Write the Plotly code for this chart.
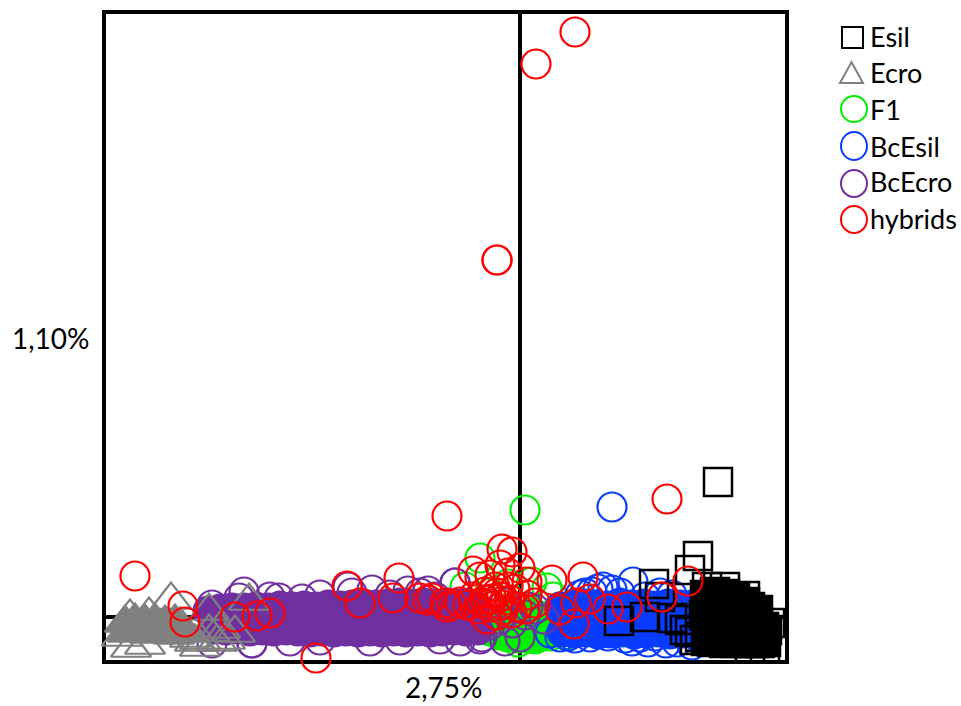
import plotly.graph_objects as go

# Score values (arbitrary score units, origin at the crossing lines)
f1_core_x = [-22, -12, -2, 8, 18, 28, 6, -15, -3, 12, 22]
f1_core_y = [-17, -20, -21, -21, -20, -17, -10, -2, 2, 4, 0]
f1_x = [-40, 5, 27, 47, -2, 15, 30, -30, -12, -55, 40, 12, -20, -30, 48, -45, 33]
f1_y = [59, 107, 29, -18, -25, -22, -19, 24, 33, 30, 10, 35, -18, -14, -8, 12, 20]

bcesil_core_x = [40, 52, 64, 76, 88, 100, 112, 124, 136, 148, 160, 172, 182,
                 42, 54, 66, 78, 90, 102, 114, 126, 138, 150, 162, 174, 186]
bcesil_core_y = [10, 12, 13, 12, 11, 14, 12, 13, 11, 13, 12, 12, 10,
                 -15, -16, -15, -17, -16, -15, -17, -16, -15, -17, -16, -17, -15]
bcesil_x = [92, 83, 113, 72, 60, 100, 125, 140, 152, 40, 55, 70, 88, 105, 120, 135, 157, 172, 190, 30, 48, 92, 78, 65,
            112, 128, 146]
bcesil_y = [110, 30, 35, 25, 22, 24, 20, 24, 22, -20, -21, -20, -19, -21, -20, -19, -25, -28, -22, -16, -19, 27, 28, 24,
            -24, -25, -26]

bcecro_core_x = [-312, -300, -288, -276, -264, -252, -240, -228, -216, -204, -192, -180, -168, -156, -144,
                 -132, -120, -108, -96, -84, -72, -60, -48,
                 -306, -294, -282, -270, -258, -246, -234, -222, -210, -198, -186, -174, -162, -150, -138,
                 -126, -114, -102, -90, -78, -66, -54, -42]
bcecro_core_y = [6, 8, 9, 9, 10, 9, 11, 10, 11, 10, 12, 11, 12, 13, 12,
                 13, 14, 13, 14, 13, 14, 13, 12,
                 -12, -13, -12, -14, -13, -14, -13, -14, -15, -14, -15, -14, -15, -14, -15,
                 -14, -15, -14, -15, -14, -13, -14, -13]
bcecro_x = [-281, -276, -241, -218, -172, -168, -148, -130, -100, -92, -85, -65, -308, -268, -308, -268, -120,
            -80, -230, -200, -150, -60, -40, -15, 0, -65, -200, -250, -112, -30, -20, -8, 5, 15, 24, -33, -15, 8, -38]
bcecro_y = [19, 25, 19, 18, 30, 24, 27, 22, 24, 26, 20, 34, 12, -26, -26, -26, -23, -22, -24, -23, -24, -24, -22, -24, -20, 34, 22, 20, 26,
            -8, -2, -6, 2, 8, -2, 12, 14, 10, -20]

ecro_core_x = [-395, -385, -375, -365, -355, -345, -392, -380, -370, -358, -346, -335, -388, -372, -360, -350]
ecro_core_y = [-6, -4, -5, -4, -6, -5, -16, -15, -17, -16, -18, -16, -11, -10, -11, -10]
ecro_x = [-390, -371, -349, -311, -271, -311, -303, -320, -330, -295, -389, -375, -320, -285, -300, -398, -340, -325]
ecro_y = [0, 2, 17, 6, 16, -15, -25, -23, -21, -23, -31, -28, -30, -16, -12, -20, -8, -25]

esil_core_x = [184, 190, 196, 202, 208, 214, 220, 226, 232, 238, 244, 247,
               186, 192, 198, 204, 210, 216, 222, 228, 234, 240, 246,
               185, 195, 205, 215, 225, 230, 237]
esil_core_y = [2, 3, 2, 4, 3, 2, 2, 0, -2, -5, -10, -13,
               -24, -25, -24, -26, -25, -26, -25, -26, -26, -26, -25,
               22, 25, 23, 20, 15, 10, 5]
esil_x = [134, 140, 99, 125, 178, 170, 198, 187, 205, 225, 238, 250, 165, 170, 175, 160, 152, 180, 190, 213, 230, 245]
esil_y = [33, 20, -4, 0, 61, 47, 135, 30, 30, 21, 7, -6, -13, -15, -23, -3, -1, -20, -23, -23, -31, -31]

hybrids_x = [55, 16, -23, -23, -73, 147, -385, -204, -337, -335, -285, -263, -250, -173, -160, -121, -127,
             -100, -92, -88, -75, -68, -18, -8, -47, 0, -20, 32, 63, 168, 142, 107, 88, 70, 56, 40, 54, -23,
             -40, -30, -12, 7, -47, -60, -73, -35, -23, -10, 7, 15, -30, -17, -3, -42, -52, -25, -12, -18, -35, -5, 5,
             -28, -38, -20, -8, -33]
hybrids_y = [585, 553, 357, 357, 101, 118, 41, -41, 11, -5, 0, 1, 4, 31, 14, 39, 19,
             19, 17, 19, 14, 12, 68, 65, 46, 49, 52, 37, 40, 36, 20, 10, 8, 18, 14, 7, -7, 2,
             40, 42, 44, 35, 20, 15, 10, 17, 24, 17, 22, 14, 10, 7, 10, 8, 12, 30, 30, 12, 25, 28, 8,
             18, 14, 20, 4, -2]

legend_labels = ["Esil", "Ecro", "F1", "BcEsil", "BcEcro", "hybrids"]
axis_x_label = "2,75%"
axis_y_label = "1,10%"

BLACK, GREY, GREEN, BLUE, PURPLE, RED = "#000000", "#808080", "#00f000", "#0a3cff", "#7030a0", "#ff0000"
FONT = "Lato"
W, H = 961, 706
L, R, T, B = 104, 787, 12, 662


def hollow(x, y, name, color, symbol="circle", size=29, lw=2.2):
    return go.Scatter(x=x, y=y, mode="markers", name=name, showlegend=False, cliponaxis=False,
                      marker=dict(symbol=symbol, size=size, color="rgba(0,0,0,0)",
                                  line=dict(color=color, width=lw)))


def solid(x, y, name, color, symbol="circle", size=29, lw=2.2):
    return go.Scatter(x=x, y=y, mode="markers", name=name, showlegend=False, cliponaxis=False,
                      marker=dict(symbol=symbol, size=size, color=color,
                                  line=dict(color=color, width=lw)))


fig = go.Figure()
fig.add_trace(solid(f1_core_x, f1_core_y, "F1", GREEN))
fig.add_trace(hollow(f1_x, f1_y, "F1", GREEN))
fig.add_trace(solid(bcesil_core_x, bcesil_core_y, "BcEsil", BLUE))
fig.add_trace(hollow(bcesil_x, bcesil_y, "BcEsil", BLUE))
fig.add_trace(solid(bcecro_core_x, bcecro_core_y, "BcEcro", PURPLE))
fig.add_trace(hollow(bcecro_x, bcecro_y, "BcEcro", PURPLE))
fig.add_trace(solid(ecro_core_x, ecro_core_y, "Ecro", GREY, "triangle-up", 35))
fig.add_trace(hollow(ecro_x, ecro_y, "Ecro", GREY, "triangle-up", 35))
fig.add_trace(solid(esil_core_x, esil_core_y, "Esil", BLACK, "square", 28, 2.5))
fig.add_trace(hollow(esil_x, esil_y, "Esil", BLACK, "square", 28, 2.5))
fig.add_trace(hollow(hybrids_x, hybrids_y, "hybrids", RED))


def px(v):
    return (v - L) / (R - L)


def py(v):
    return (B - v) / (B - T)


shapes = [
    dict(type="rect", xref="paper", yref="paper", x0=0, x1=1, y0=0, y1=1,
         line=dict(color="black", width=4), layer="below"),
    dict(type="rect", xref="paper", yref="paper", x0=px(842), x1=px(863), y0=py(27), y1=py(48),
         line=dict(color=BLACK, width=2)),
    dict(type="path", xref="paper", yref="paper",
         path=f"M {px(840)} {py(83)} L {px(863)} {py(83)} L {px(851.5)} {py(62)} Z",
         line=dict(color=GREY, width=2)),
]
for y0, y1, col in [(96, 122, GREEN), (132, 160, BLUE), (170, 197, PURPLE), (206, 233, RED)]:
    shapes.append(dict(type="circle", xref="paper", yref="paper", x0=px(841), x1=px(867),
                       y0=py(y0), y1=py(y1), line=dict(color=col, width=2)))

annotations = [
    dict(text=t, x=px(868), y=py(yy), xref="paper", yref="paper", xanchor="left", yanchor="middle",
         showarrow=False, font=dict(family=FONT, size=27, color="black"))
    for t, yy in zip(legend_labels, [37, 73, 109, 146, 182, 218])
]
annotations.append(dict(text=axis_x_label, x=px(444), y=py(687), xref="paper", yref="paper",
                        xanchor="center", yanchor="middle", showarrow=False,
                        font=dict(family=FONT, size=28, color="black")))
annotations.append(dict(text=axis_y_label, x=px(51), y=py(338), xref="paper", yref="paper",
                        xanchor="center", yanchor="middle", showarrow=False,
                        font=dict(family=FONT, size=28, color="black")))

fig.update_layout(
    width=W, height=H, margin=dict(l=L, r=W - R, t=T, b=H - B, pad=0),
    paper_bgcolor="white", plot_bgcolor="white", showlegend=False,
    shapes=shapes, annotations=annotations,
    xaxis=dict(range=[-416, 267], showgrid=False, showticklabels=False, ticks="",
               zeroline=True, zerolinecolor="black", zerolinewidth=4, showline=False),
    yaxis=dict(range=[-45, 605], showgrid=False, showticklabels=False, ticks="",
               zeroline=True, zerolinecolor="black", zerolinewidth=4, showline=False),
)
fig.write_html("out.html", config={"displayModeBar": False},
               post_script="document.body.style.margin='0';document.body.style.overflow='hidden';")
